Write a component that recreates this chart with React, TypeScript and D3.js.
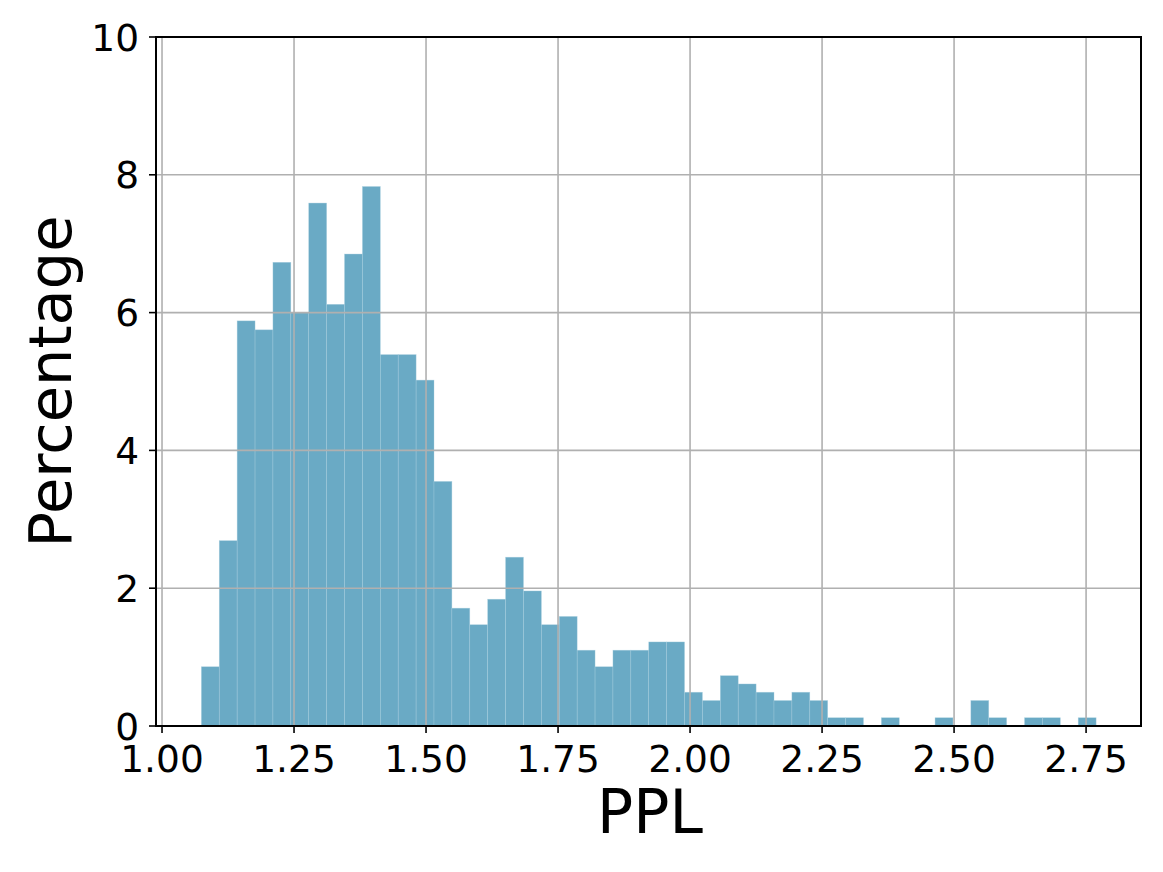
import React from "react";
import { scaleLinear, range } from "d3";

const width = 1163, height = 872
const margin = { left: 156, right: 22, top: 37, bottom: 146 }

// histogram: 50 equal bins between these edges
const binStart = 1.0745
const binEnd = 2.769
const percentages = [
  0.86, 2.69, 5.88, 5.75, 6.73, 6.00, 7.59, 6.12, 6.85, 7.83,
  5.39, 5.39, 5.02, 3.55, 1.71, 1.47, 1.84, 2.45, 1.96, 1.47,
  1.59, 1.10, 0.86, 1.10, 1.10, 1.22, 1.22, 0.49, 0.37, 0.73,
  0.61, 0.49, 0.37, 0.49, 0.37, 0.12, 0.12, 0, 0.12, 0,
  0, 0.12, 0, 0.37, 0.12, 0, 0.12, 0.12, 0, 0.12,
]
const xTicks = [1.0, 1.25, 1.5, 1.75, 2.0, 2.25, 2.5, 2.75]
const yTicks = [0, 2, 4, 6, 8, 10]

const font = "DejaVu Sans"

const App = () => {
  const x = scaleLinear().domain([0.9886, 2.854]).range([margin.left, width - margin.right])
  const y = scaleLinear().domain([0, 10]).range([height - margin.bottom, margin.top])
  const binW = (binEnd - binStart) / percentages.length
  const bins = range(percentages.length).map(i => ({
    x0: binStart + i * binW,
    x1: binStart + (i + 1) * binW,
    v: percentages[i],
  }))
  const [x0, x1] = x.range()
  const [yb, yt] = y.range()

  return (
    <svg width={width} height={height} style={{ position: "absolute", left: 0, top: 0, background: "#fff" }}>
      {bins.filter(b => b.v > 0).map((b, i) => (
        <rect key={i}
          x={x(b.x0)} y={y(b.v)}
          width={x(b.x1) - x(b.x0)} height={yb - y(b.v)}
          fill="#6aaac5" stroke="#a9cfdf" strokeOpacity={0.6} strokeWidth={0.6} />
      ))}
      {/* grid over the bars */}
      {xTicks.map(t => (
        <line key={"gx" + t} x1={x(t)} x2={x(t)} y1={yb} y2={yt} stroke="#b0b0b0" strokeWidth={1.6} />
      ))}
      {yTicks.map(t => (
        <line key={"gy" + t} x1={x0} x2={x1} y1={y(t)} y2={y(t)} stroke="#b0b0b0" strokeWidth={1.6} />
      ))}
      <rect x={x0} y={yt} width={x1 - x0} height={yb - yt} fill="none" stroke="#000" strokeWidth={2} />
      {xTicks.map(t => (
        <g key={"tx" + t}>
          <line x1={x(t)} x2={x(t)} y1={yb} y2={yb + 7} stroke="#000" strokeWidth={1.6} />
          <text x={x(t)} y={771.5} textAnchor="middle" fontFamily={font} fontSize={37.5}>{t.toFixed(2)}</text>
        </g>
      ))}
      {yTicks.map(t => (
        <g key={"ty" + t}>
          <line x1={x0 - 7} x2={x0} y1={y(t)} y2={y(t)} stroke="#000" strokeWidth={1.6} />
          <text x={139} y={y(t) + 13.5} textAnchor="end" fontFamily={font} fontSize={37.5}>{t}</text>
        </g>
      ))}
      <text x={650} y={833} textAnchor="middle" fontFamily={font} fontSize={60}>PPL</text>
      <text transform={`translate(71,${(yb + yt) / 2}) rotate(-90)`} textAnchor="middle" fontFamily={font} fontSize={59}>Percentage</text>
    </svg>
  )
}

export default App;
